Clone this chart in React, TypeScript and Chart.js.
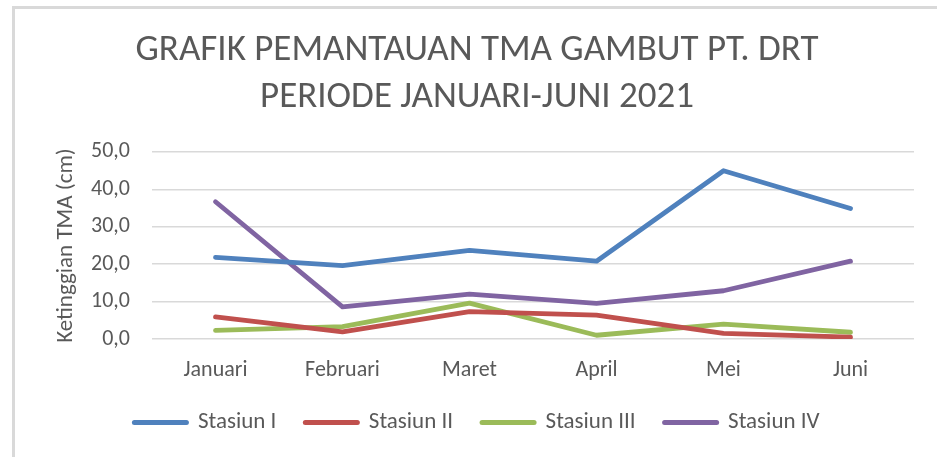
import React, { useEffect, useRef } from "react";
import { Chart, registerables } from "chart.js";

Chart.register(...registerables);

const categories = ["Januari", "Februari", "Maret", "April", "Mei", "Juni"];
const stasiun1 = [21.8, 19.6, 23.7, 20.8, 45.0, 34.9];
const stasiun2 = [5.9, 1.9, 7.3, 6.4, 1.5, 0.5];
const stasiun3 = [2.3, 3.3, 9.6, 1.0, 4.0, 1.8];
const stasiun4 = [36.7, 8.6, 12.0, 9.5, 12.9, 20.8];
const seriesNames = ["Stasiun I", "Stasiun II", "Stasiun III", "Stasiun IV"];
const titleLines = ["GRAFIK PEMANTAUAN TMA GAMBUT PT. DRT", "PERIODE JANUARI-JUNI 2021"];
const yTitle = "Ketinggian TMA (cm)";

const colors = ["#4F81BD", "#C0504D", "#9BBB59", "#8064A2"];
const FONT = "Carlito, 'Liberation Sans Narrow', 'Liberation Sans', sans-serif";
const TEXT = "#595959";

export default function App() {
  const ref = useRef<HTMLCanvasElement>(null);
  useEffect(() => {
    if (!ref.current) return;
    const data = [stasiun1, stasiun2, stasiun3, stasiun4];
    const chart = new Chart(ref.current, {
      type: "line",
      data: {
        labels: categories,
        datasets: data.map((d, i) => ({
          label: seriesNames[i],
          data: d,
          borderColor: colors[i],
          backgroundColor: colors[i],
          borderWidth: 4.8,
          pointRadius: 0,
          tension: 0,
          borderCapStyle: "round" as const,
          borderJoinStyle: "round" as const,
        })),
      },
      options: {
        animation: false,
        responsive: false,
        layout: { padding: { left: 40, right: 23, top: 0, bottom: 13 } },
        plugins: {
          title: {
            display: true,
            text: titleLines,
            color: TEXT,
            font: { family: FONT, size: 37, weight: "normal", lineHeight: 1.27 },
            padding: { top: 27, bottom: 31 },
          },
          legend: {
            position: "bottom",
            labels: {
              color: TEXT,
              font: { family: FONT, size: 23 },
              usePointStyle: true,
              pointStyle: "line",
              pointStyleWidth: 52,
              boxHeight: 5,
              padding: 29,
              generateLabels: (c: any) =>
                c.data.datasets.map((ds: any, i: number) => ({
                  text: ds.label,
                  fillStyle: colors[i],
                  strokeStyle: colors[i],
                  lineWidth: 5,
                  lineCap: "round",
                  pointStyle: "line",
                  hidden: false,
                  datasetIndex: i,
                  fontColor: TEXT,
                })),
            },
          },
          tooltip: { enabled: false },
        },
        scales: {
          x: {
            offset: true,
            grid: { display: false },
            border: { display: false },
            ticks: { color: TEXT, font: { family: FONT, size: 22 }, padding: 10 },
            afterFit: (s: any) => {
              s.height = 43;
            },
          },
          y: {
            min: 0,
            max: 50,
            ticks: {
              stepSize: 10,
              color: TEXT,
              padding: 22,
              font: { family: FONT, size: 22 },
              callback: (v: any) => Number(v).toFixed(1).replace(".", ","),
            },
            grid: { color: "#d9d9d9", lineWidth: 1.5, drawTicks: false },
            border: { display: false },
            title: {
              display: true,
              text: yTitle,
              color: TEXT,
              font: { family: FONT, size: 23 },
              padding: { top: 12, bottom: 0 },
            },
            afterFit: (s: any) => {
              s.width = 112;
            },
          },
        },
      },
    });
    return () => chart.destroy();
  }, []);
  return (
    <div style={{ position: "fixed", left: 0, top: 0, width: 937, height: 457, background: "#fff" }}>
      <div
        style={{
          position: "absolute",
          left: 12,
          top: 6,
          width: 940,
          height: 460,
          borderTop: "3px solid #d9d9d9",
          borderLeft: "3px solid #d9d9d9",
        }}
      />
      <canvas ref={ref} width={937} height={457} style={{ position: "absolute", left: 0, top: 0 }} />
    </div>
  );
}
